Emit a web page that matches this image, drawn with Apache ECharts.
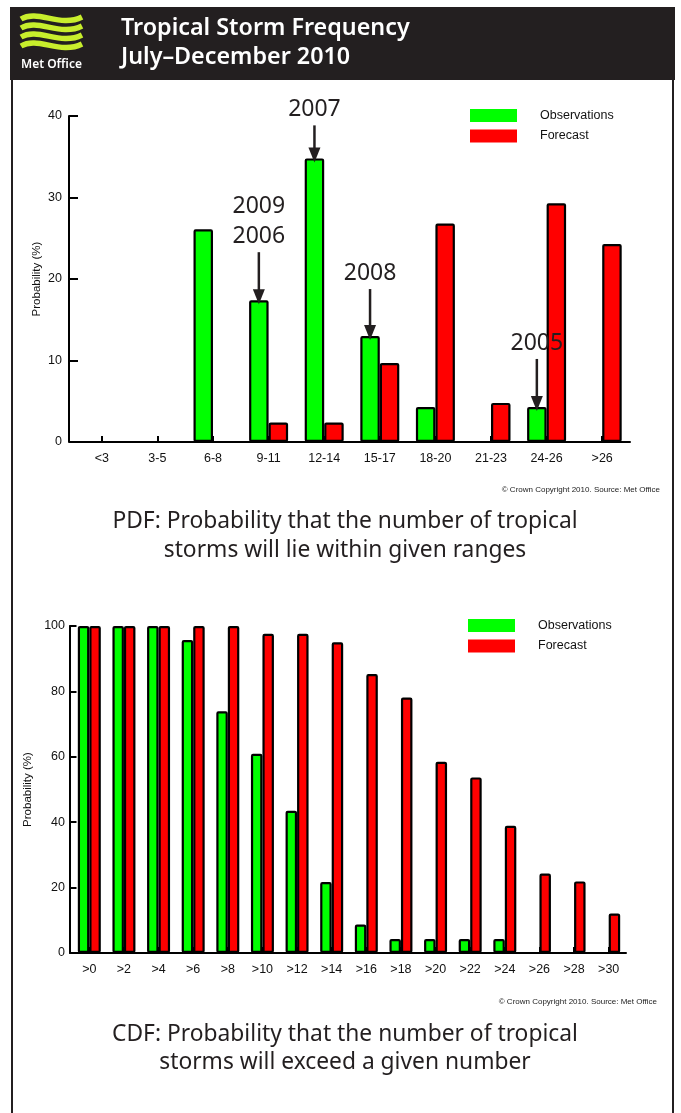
<!DOCTYPE html>
<html>
<head>
<meta charset="utf-8">
<script src="https://cdn.jsdelivr.net/npm/echarts@6/dist/echarts.min.js"></script>
<style>
  html, body { margin: 0; padding: 0; background: #fff; }
  #chart { width: 681px; height: 1113px; }
</style>
</head>
<body>
<div id="chart"></div>
<script>
// PDF: share of seasons in each storm-count range (%)
const pdfCats = ['<3', '3-5', '6-8', '9-11', '12-14', '15-17', '18-20', '21-23', '24-26', '>26'];
const pdfObs = [0, 0, 26.1, 17.4, 34.8, 13.0, 4.3, 0, 4.3, 0];
const pdfFc = [0, 0, 0, 2.4, 2.4, 9.7, 26.8, 4.8, 29.3, 24.3];

// CDF: chance of exceeding a given number (%)
const cdfCats = ['>0', '>2', '>4', '>6', '>8', '>10', '>12', '>14', '>16', '>18', '>20', '>22', '>24', '>26', '>28', '>30'];
const cdfObs = [100, 100, 100, 95.7, 73.9, 60.9, 43.5, 21.7, 8.7, 4.3, 4.3, 4.3, 4.3, 0, 0, 0];
const cdfFc = [100, 100, 100, 100, 100, 97.6, 97.6, 95.0, 85.3, 78.1, 58.5, 53.7, 38.9, 24.3, 21.9, 12.1];

// years pointed at on the PDF observation bars
const annoCats = ['9-11', '12-14', '15-17', '24-26'];
const annoYears = [['2009', '2006'], ['2007'], ['2008'], ['2005']];

const INK = '#231f20';
const GREEN = '#00ff00';
const RED = '#ff0000';
const AXIS_FONT = 'Liberation Sans, Arial, sans-serif';
const TEXT_FONT = '"Noto Sans", sans-serif';

const topGrid = { left: 74, top: 116, width: 556, height: 326 };
const botGrid = { left: 72, top: 626, width: 554, height: 327 };
const PDF_BAR = 19.5, CDF_BAR = 11.5;
const arrowLen = [52, 37, 51, 52];

const chart = echarts.init(document.getElementById('chart'));

function yAxisFor(gridIndex, max, interval, offset, tickLen, labelMargin, nameGap) {
  return {
    gridIndex, type: 'value', min: 0, max, interval, offset,
    name: 'Probability (%)', nameLocation: 'middle', nameGap, nameMoveOverlap: false,
    nameTextStyle: { fontFamily: AXIS_FONT, fontSize: 11.5, color: '#111' },
    axisLine: { show: true, lineStyle: { color: '#000', width: 2 } },
    axisTick: { show: true, inside: true, length: tickLen, lineStyle: { color: '#000', width: 2 } },
    axisLabel: { fontFamily: AXIS_FONT, fontSize: 12.5, color: '#111', margin: labelMargin },
    splitLine: { show: false }
  };
}

function xAxisFor(gridIndex, data) {
  return {
    gridIndex, type: 'category', data,
    axisLine: { show: true, lineStyle: { color: '#000', width: 2 } },
    axisTick: { show: true, inside: true, alignWithLabel: true, length: 6, lineStyle: { color: '#000', width: 2 } },
    axisLabel: { fontFamily: AXIS_FONT, fontSize: 12.5, color: '#111', margin: 10, interval: 0 }
  };
}

function barSeries(name, data, axis, width, color) {
  return {
    name, type: 'bar', data, xAxisIndex: axis, yAxisIndex: axis,
    barWidth: width, barGap: '0%',
    itemStyle: { color, borderColor: '#000', borderWidth: 2.2, borderRadius: 1 },
    emphasis: { disabled: true }, animation: false
  };
}

function legendAt(left, top) {
  return {
    orient: 'vertical', left, top, icon: 'rect', padding: 0,
    itemWidth: 47, itemHeight: 13, itemGap: 7.5,
    data: ['Observations', 'Forecast'],
    itemStyle: { borderWidth: 0 },
    textStyle: { fontFamily: AXIS_FONT, fontSize: 12.5, color: '#111', padding: [0, 0, 0, 18] }
  };
}

function renderArrow(params, api) {
  const i = params.dataIndex;
  const pt = api.coord([api.value(0), api.value(1)]);
  const x = pt[0] - PDF_BAR / 2;
  const tip = pt[1] + 4;
  const start = tip - arrowLen[i];
  const lines = annoYears[i];
  const children = [
    { type: 'line', shape: { x1: x, y1: start, x2: x, y2: tip - 12 }, style: { stroke: INK, lineWidth: 2.5 } },
    { type: 'polygon', shape: { points: [[x - 6, tip - 15], [x + 6, tip - 15], [x, tip]] }, style: { fill: INK } }
  ];
  lines.forEach((t, k) => {
    children.push({
      type: 'text',
      style: {
        text: t, x, y: start - 16 - (lines.length - 1 - k) * 30,
        align: 'center', verticalAlign: 'middle',
        font: '23px ' + TEXT_FONT, fill: INK
      }
    });
  });
  return { type: 'group', children };
}

// logo stripes
const logoWaves = [18, 27, 36, 45].map(y0 => ({
  type: 'bezierCurve',
  shape: { x1: 21, y1: y0 + 1, cpx1: 38, cpy1: y0 - 9, cpx2: 60, cpy2: y0 + 10, x2: 82, y2: y0 - 1 },
  style: { stroke: '#c8ee2c', lineWidth: 5.5, fill: null }
}));

function caption(y, text) {
  return { type: 'text', style: { text, x: 345, y, align: 'center', verticalAlign: 'middle', font: '22.8px ' + TEXT_FONT, fill: INK } };
}
function copyright(x, y) {
  return { type: 'text', style: { text: '\u00a9 Crown Copyright 2010. Source: Met Office', x, y, align: 'right', verticalAlign: 'middle', font: '8px ' + AXIS_FONT, fill: '#222' } };
}

chart.setOption({
  animation: false,
  grid: [
    Object.assign({ containLabel: false }, topGrid),
    Object.assign({ containLabel: false }, botGrid)
  ],
  legend: [legendAt(470, 109), legendAt(468, 619)],
  xAxis: [xAxisFor(0, pdfCats), xAxisFor(1, cdfCats)],
  yAxis: [yAxisFor(0, 40, 10, 5, 9, 7, 26.5), yAxisFor(1, 100, 20, 2.5, 7, 4.5, 35.5)],
  series: [
    barSeries('Observations', pdfObs, 0, PDF_BAR, GREEN),
    barSeries('Forecast', pdfFc, 0, PDF_BAR, RED),
    barSeries('Observations', cdfObs, 1, CDF_BAR, GREEN),
    barSeries('Forecast', cdfFc, 1, CDF_BAR, RED),
    {
      type: 'custom', name: 'years', xAxisIndex: 0, yAxisIndex: 0,
      z: 10, silent: true, clip: false,
      data: annoCats.map(c => [pdfCats.indexOf(c), pdfObs[pdfCats.indexOf(c)]]),
      renderItem: renderArrow
    }
  ],
  graphic: [
    { type: 'rect', shape: { x: 10, y: 7, width: 665, height: 73 }, style: { fill: INK }, z: 0 },
    ...logoWaves,
    { type: 'text', style: { text: 'Met Office', x: 21, y: 65, verticalAlign: 'middle', font: '600 12px ' + TEXT_FONT, fill: '#fff' } },
    { type: 'text', style: { text: 'Tropical Storm Frequency', x: 121, y: 28, verticalAlign: 'middle', font: '600 23.3px ' + TEXT_FONT, fill: '#fff' } },
    { type: 'text', style: { text: 'July\u2013December 2010', x: 121, y: 57, verticalAlign: 'middle', font: '600 23.3px ' + TEXT_FONT, fill: '#fff' } },
    { type: 'line', shape: { x1: 12, y1: 80, x2: 12, y2: 1113 }, style: { stroke: INK, lineWidth: 2 } },
    { type: 'line', shape: { x1: 673, y1: 80, x2: 673, y2: 1113 }, style: { stroke: INK, lineWidth: 2 } },
    // join the offset y axes to the x axis lines
    { type: 'line', shape: { x1: topGrid.left - 5, y1: topGrid.top + topGrid.height, x2: topGrid.left, y2: topGrid.top + topGrid.height }, style: { stroke: '#000', lineWidth: 2 } },
    { type: 'line', shape: { x1: botGrid.left - 2.5, y1: botGrid.top + botGrid.height, x2: botGrid.left, y2: botGrid.top + botGrid.height }, style: { stroke: '#000', lineWidth: 2 } },
    copyright(660, 490),
    copyright(657, 1002),
    caption(522, 'PDF: Probability that the number of tropical'),
    caption(551, 'storms will lie within given ranges'),
    caption(1035, 'CDF: Probability that the number of tropical'),
    caption(1063, 'storms will exceed a given number')
  ]
});
</script>
</body>
</html>
